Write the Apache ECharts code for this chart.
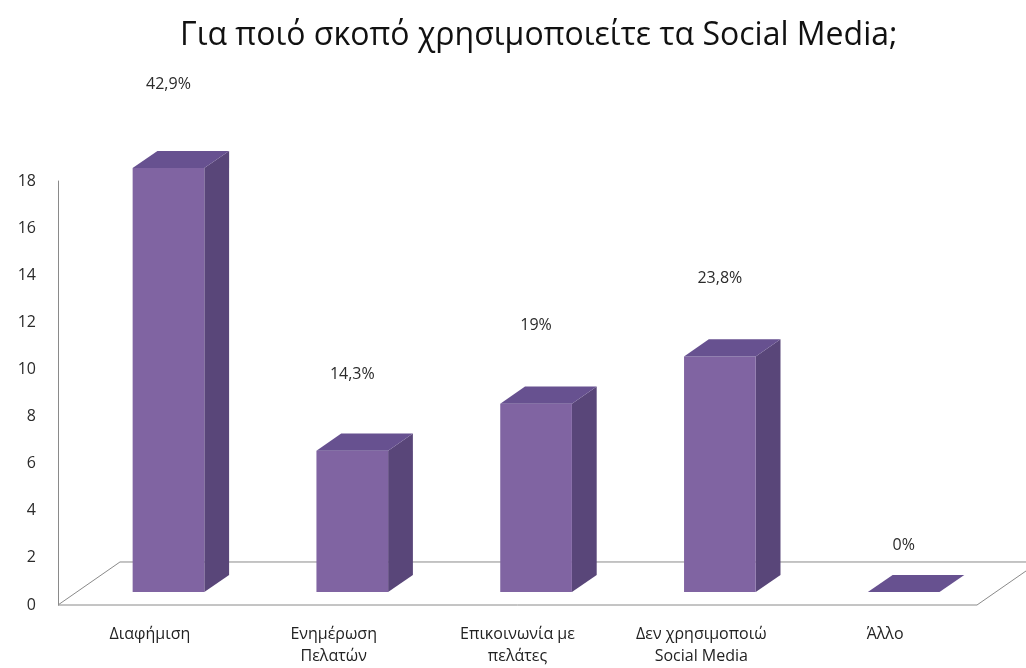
<!DOCTYPE html>
<html>
<head>
<meta charset="utf-8">
<script src="https://cdn.jsdelivr.net/npm/echarts@6/dist/echarts.min.js"></script>
<style>
  html, body { margin: 0; padding: 0; background: #ffffff; }
  #chart { width: 1026px; height: 668px; }
</style>
</head>
<body>
<div id="chart"></div>
<script>
// Survey answers: purpose of using social media
const categories = ['Διαφήμιση', 'Ενημέρωση\nΠελατών', 'Επικοινωνία με\nπελάτες', 'Δεν χρησιμοποιώ\nSocial Media', 'Άλλο'];
const counts = [18, 6, 8, 10, 0];
const shareLabels = ['42,9%', '14,3%', '19%', '23,8%', '0%'];
const yMax = 18;
const yStep = 2;

// Layout of the pseudo-3D look (fractions of a category band)
const FLOOR_DX = 0.337;     // floor depth, horizontal
const FLOOR_DY = -0.234;    // floor depth, vertical
const BAR_WIDTH = 0.39;
const BAR_SHIFT = 0.3;      // where the bar's front sits inside the floor depth
const BAR_DEPTH = 0.4;      // bar depth as a share of the floor depth
const labelLift = [84, 76, 78, 78, 47];

const FRONT = '#8064a2';
const SIDE = '#594679';
const TOP = '#675190';
const EDGE = '#8a8a8a';
const FONT = 'Open Sans, Noto Sans, sans-serif';

const chart = echarts.init(document.getElementById('chart'));

function floorItem(params, api) {
  const band = api.size([1, 0])[0];
  const first = api.coord([0, 0]);
  const last = api.coord([categories.length - 1, 0]);
  const left = first[0] - band / 2;
  const right = last[0] + band / 2;
  const y0 = first[1];
  const dx = band * FLOOR_DX, dy = band * FLOOR_DY;
  return {
    type: 'polygon',
    shape: { points: [[left, y0], [right, y0], [right + dx, y0 + dy], [left + dx, y0 + dy]] },
    style: { fill: '#ffffff', stroke: EDGE, lineWidth: 1 },
    z2: 0
  };
}

function barItem(params, api) {
  const idx = api.value(0);
  const val = api.value(1);
  const band = api.size([1, 0])[0];
  const base = api.coord([idx, 0]);
  const top = api.coord([idx, val]);
  const fdx = band * FLOOR_DX, fdy = band * FLOOR_DY;
  const ox = fdx * BAR_SHIFT, oy = fdy * BAR_SHIFT;
  const dx = fdx * BAR_DEPTH, dy = fdy * BAR_DEPTH;
  const w = band * BAR_WIDTH;
  const x0 = base[0] - w / 2 + ox;
  const x1 = x0 + w;
  const yb = base[1] + oy;
  const yt = top[1] + oy;
  const children = [];
  if (yb - yt > 0.5) {
    children.push({
      type: 'polygon',
      shape: { points: [[x1, yt], [x1 + dx, yt + dy], [x1 + dx, yb + dy], [x1, yb]] },
      style: { fill: SIDE }
    });
    children.push({
      type: 'rect',
      shape: { x: x0, y: yt, width: w, height: yb - yt },
      style: { fill: FRONT }
    });
  }
  children.push({
    type: 'polygon',
    shape: { points: [[x0, yt], [x0 + dx, yt + dy], [x1 + dx, yt + dy], [x1, yt]] },
    style: { fill: TOP }
  });
  children.push({
    type: 'text',
    style: {
      text: shareLabels[idx],
      x: (x0 + x1) / 2,
      y: yt - labelLift[idx],
      align: 'center',
      verticalAlign: 'middle',
      fontSize: 16,
      fontFamily: FONT,
      fill: '#2b2b2b'
    }
  });
  return { type: 'group', children: children };
}

chart.setOption({
  animation: false,
  backgroundColor: '#ffffff',
  title: {
    text: 'Για ποιό σκοπό χρησιμοποιείτε τα Social Media;',
    left: 175,
    top: 15,
    textStyle: {
      fontSize: 32,
      fontWeight: 'normal',
      color: '#111111',
      fontFamily: FONT
    }
  },
  grid: { left: 58, right: 49, top: 181, bottom: 63 },
  xAxis: {
    type: 'category',
    data: categories,
    boundaryGap: true,
    axisLine: { show: false },
    axisTick: { show: false },
    axisLabel: {
      interval: 0,
      margin: 18,
      fontSize: 16,
      lineHeight: 22,
      color: '#222222',
      fontFamily: FONT
    }
  },
  yAxis: {
    type: 'value',
    min: 0,
    max: yMax,
    interval: yStep,
    splitLine: { show: false },
    axisTick: { show: false },
    axisLine: { show: true, lineStyle: { color: EDGE, width: 1 } },
    axisLabel: {
      margin: 22,
      fontSize: 16,
      color: '#2b2b2b',
      fontFamily: FONT
    }
  },
  series: [
    {
      type: 'custom',
      renderItem: floorItem,
      data: [[0, 0]],
      z: 1,
      silent: true
    },
    {
      type: 'custom',
      renderItem: barItem,
      data: counts.map((v, i) => [i, v]),
      z: 2,
      clip: false
    }
  ]
});
</script>
</body>
</html>
